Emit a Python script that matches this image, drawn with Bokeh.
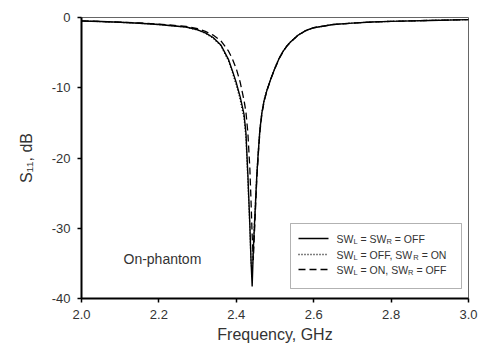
from bokeh.plotting import figure
from bokeh.models import Range1d, FixedTicker, Label, BoxAnnotation
from bokeh.embed import file_html
from bokeh.resources import INLINE

# ---------------- data ----------------
freq = [2.00, 2.05, 2.10, 2.15, 2.20, 2.24, 2.27, 2.30, 2.32, 2.34, 2.36, 2.38, 2.39, 2.40,
        2.41, 2.42, 2.425, 2.43, 2.435, 2.438, 2.441, 2.444, 2.447, 2.450, 2.453, 2.457,
        2.461, 2.466, 2.472, 2.48, 2.49, 2.50, 2.51, 2.52, 2.53, 2.54, 2.56, 2.58, 2.60,
        2.65, 2.70, 2.75, 2.80, 2.90, 3.00]

s11_off_off = [-0.50, -0.58, -0.68, -0.82, -1.00, -1.20, -1.35, -1.75, -2.20, -2.85, -3.90,
               -6.00, -7.60, -9.30, -11.30, -13.80, -16.50, -22.50, -29.50, -34.50, -38.30,
               -33.00, -29.50, -26.00, -22.50, -19.00, -16.00, -13.60, -11.80, -10.20, -8.60,
               -7.20, -5.90, -4.90, -4.10, -3.50, -2.50, -1.85, -1.45, -1.00, -0.80, -0.65,
               -0.55, -0.42, -0.30]

s11_off_on = [-0.50, -0.58, -0.69, -0.83, -1.01, -1.21, -1.37, -1.78, -2.25, -2.92, -4.00,
              -6.20, -7.85, -9.60, -11.70, -14.30, -17.20, -23.50, -30.00, -35.00, -36.00,
              -32.50, -29.00, -25.70, -22.20, -18.80, -15.80, -13.50, -11.70, -10.10, -8.55,
              -7.15, -5.85, -4.87, -4.08, -3.48, -2.48, -1.84, -1.44, -0.99, -0.79, -0.64,
              -0.54, -0.41, -0.30]

s11_on_off = [-0.48, -0.56, -0.66, -0.78, -0.95, -1.12, -1.28, -1.60, -1.98, -2.50, -3.30,
              -4.80, -5.90, -7.30, -9.20, -11.80, -13.50, -16.50, -21.50, -26.00, -31.00,
              -34.50, -30.50, -26.80, -23.00, -19.40, -16.30, -13.80, -11.90, -10.30, -8.65,
              -7.25, -5.95, -4.95, -4.12, -3.52, -2.52, -1.86, -1.46, -1.00, -0.80, -0.65,
              -0.55, -0.42, -0.30]

x_ticks = [2.0, 2.2, 2.4, 2.6, 2.8, 3.0]
x_tick_labels = ["2.0", "2.2", "2.4", "2.6", "2.8", "3.0"]
y_ticks = [0, -10, -20, -30, -40]
y_tick_labels = ["0", "-10", "-20", "-30", "-40"]

# legend texts: (text, is_subscript) pieces
legend_rows = [
    [("SW", False), ("L", True), ("= SW", False), ("R", True), ("= OFF", False)],
    [("SW", False), ("L", True), ("= OFF, SW", False), ("R", True), ("= ON", False)],
    [("SW", False), ("L", True), ("= ON, SW", False), ("R", True), ("= OFF", False)],
]
legend_dashes = ["solid", "1 2", "7 4"]
annotation_text = "On-phantom"
x_label = "Frequency, GHz"
y_label = "S\u2081\u2081, dB"

# ---------------- layout ----------------
W, H = 479, 349
FL, FT, FR, FB = 81, 17, 468, 298
FW, FH = FR - FL, FB - FT
X0, X1, Y0, Y1 = 2.0, 3.0, -40.0, 0.0
FONT = "Liberation Sans"
TXT = "#333333"


def dx(px):
    return X0 + (px - FL) * (X1 - X0) / FW


def dy(py):
    return Y1 - (py - FT) * (Y1 - Y0) / FH


ARIAL_W = {"S": 667, "W": 944, "L": 556, "R": 722, " ": 278, "=": 584, "O": 778,
           "F": 611, "N": 722, ",": 278}


def text_w(s, size):
    return sum(ARIAL_W.get(c, 556) for c in s) * size / 1000.0


p = figure(width=W, height=H, x_range=Range1d(X0, X1), y_range=Range1d(Y0, Y1),
           output_backend="svg", toolbar_location=None,
           min_border_left=FL, min_border_right=W - FR, min_border_top=FT,
           min_border_bottom=H - FB)
p.background_fill_color = "white"
p.border_fill_color = "white"
p.xgrid.visible = False
p.ygrid.visible = False
p.outline_line_color = "#666666"
p.outline_line_width = 1

for ax in (p.xaxis[0], p.yaxis[0]):
    ax.axis_line_color = "black"
    ax.axis_line_width = 2
    ax.major_tick_line_color = "black"
    ax.major_tick_line_width = 1.5
    ax.major_tick_out = 4
    ax.major_tick_in = 0
    ax.minor_tick_line_color = None
    ax.major_label_text_font = FONT
    ax.major_label_text_font_size = "13px"
    ax.major_label_text_color = TXT
    ax.axis_label_text_font = FONT
    ax.axis_label_text_font_size = "16px"
    ax.axis_label_text_font_style = "normal"
    ax.axis_label_text_color = TXT

p.xaxis.ticker = FixedTicker(ticks=x_ticks)
p.xaxis.major_label_overrides = {t: l for t, l in zip(x_ticks, x_tick_labels)}
p.yaxis.ticker = FixedTicker(ticks=y_ticks)
p.yaxis.major_label_overrides = {t: l for t, l in zip(y_ticks, y_tick_labels)}
p.xaxis.major_label_standoff = 7
p.yaxis.major_label_standoff = 7

p.xaxis.axis_label = x_label
p.xaxis.axis_label_standoff = 4
p.yaxis.axis_label = y_label
p.yaxis.axis_label_standoff = 14

# curves
p.line(freq, s11_off_on, line_color="black", line_width=1.3, line_dash="1 2")
p.line(freq, s11_on_off, line_color="black", line_width=1.3, line_dash="7 4")
p.line(freq, s11_off_off, line_color="black", line_width=1.4)

# annotation
p.add_layout(Label(x=dx(123), y=dy(258), text=annotation_text, text_font=FONT,
                   text_font_size="14px", text_color=TXT, text_align="left",
                   text_baseline="middle"))

# legend box
p.add_layout(BoxAnnotation(left=dx(290), right=dx(461), top=dy(223), bottom=dy(288),
                           fill_color="white", fill_alpha=1.0, line_color="black",
                           line_width=1, level="underlay"))
row_ys = [238, 254, 269]
main_size, sub_size = 10.5, 7.5
for row, dash, ry in zip(legend_rows, legend_dashes, row_ys):
    p.line([dx(298), dx(328)], [dy(ry), dy(ry)], line_color="black", line_width=1.3,
           line_dash=dash)
    pos = 0.0
    for i, (txt, sub) in enumerate(row):
        size = sub_size if sub else main_size
        if i > 0 and not sub:
            pos += text_w(" ", main_size)
        p.add_layout(Label(x=dx(336), y=dy(ry), x_offset=pos, y_offset=(-3 if sub else 0),
                           text=txt, text_font=FONT, text_font_size=f"{size}px",
                           text_color=TXT, text_align="left", text_baseline="middle"))
        pos += text_w(txt, size)

open("out.html", "w").write(file_html(p, INLINE))
